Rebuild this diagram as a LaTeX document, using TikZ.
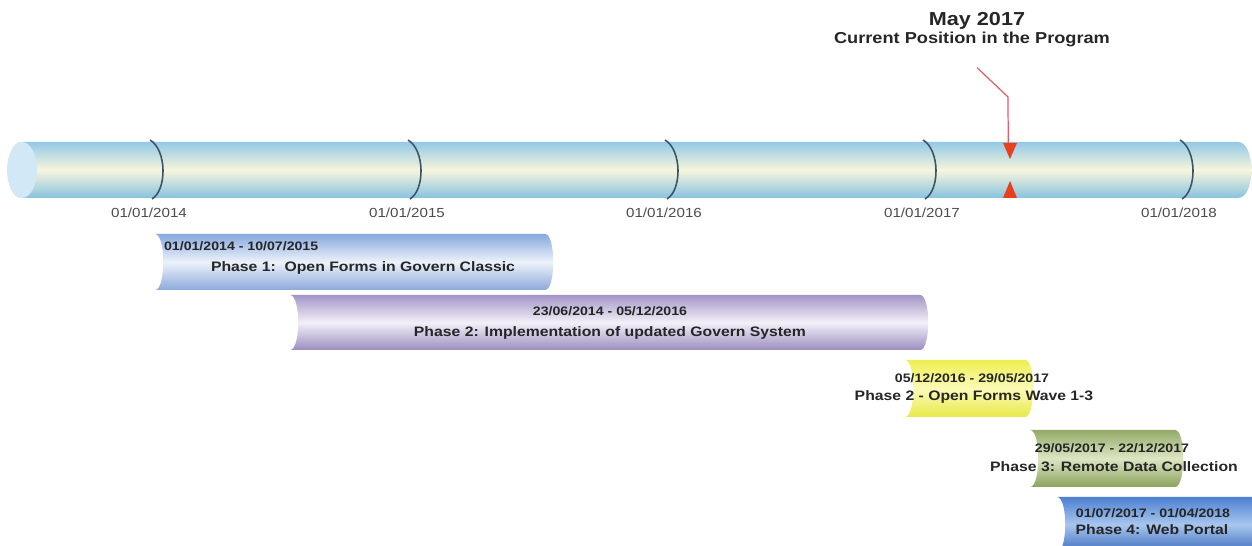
\documentclass[tikz,border=0pt]{standalone}
\usepackage{fontspec}
\setmainfont{Liberation Sans}[FakeStretch=1.15]
\usepackage{xcolor}
\usetikzlibrary{positioning, calc}

\definecolor{tubeTop}{HTML}{93C9E7}
\definecolor{tubeMid}{HTML}{F8F5DC}
\definecolor{tubeBot}{HTML}{88C2E0}
\definecolor{capFill}{HTML}{D3E8F6}
\definecolor{tickLine}{HTML}{3C5566}
\definecolor{markRed}{HTML}{E8401C}
\definecolor{pointerRed}{HTML}{D8606A}

\begin{document}
\begin{tikzpicture}[
    x=0.02cm, y=-0.02cm,
    tube/.style={top color=tubeTop, bottom color=tubeBot, middle color=tubeMid},
    ph1/.style={top color={rgb,255:red,134;green,169;blue,222}, bottom color={rgb,255:red,140;green,170;blue,218}, middle color={rgb,255:red,237;green,242;blue,250}},
    ph2/.style={top color={rgb,255:red,163;green,149;blue,198}, bottom color={rgb,255:red,156;green,140;blue,191}, middle color={rgb,255:red,243;green,240;blue,248}},
    ph3/.style={top color={rgb,255:red,238;green,238;blue,80}, bottom color={rgb,255:red,232;green,232;blue,72}, middle color={rgb,255:red,251;green,251;blue,184}},
    ph4/.style={top color={rgb,255:red,147;green,170;blue,103}, bottom color={rgb,255:red,139;green,162;blue,92}, middle color={rgb,255:red,220;green,230;blue,196}},
    ph5/.style={top color={rgb,255:red,76;green,128;blue,210}, bottom color={rgb,255:red,63;green,111;blue,191}, middle color={rgb,255:red,168;green,198;blue,238}},
    tickmark/.style={draw=tickLine, line width=0.9pt},
    ticklabel/.style={font=\fontsize{7.5}{9}\selectfont, text=black!70},
    datetext/.style={font=\fontsize{7}{8}\selectfont\bfseries, text=black!85, inner sep=1pt},
    phasetext/.style={font=\fontsize{7.8}{9}\selectfont\bfseries, text=black!85, inner sep=1pt},
    pointer/.style={draw=pointerRed, line width=0.7pt},
]
\clip (0,0) rectangle (1252,546);
\useasboundingbox (0,0) rectangle (1252,546);

% main time axis
\path[tube] (22,142) -- (1238,142) .. controls (1256,142) and (1256,198) .. (1238,198)
    -- (22,198) .. controls (3,198) and (3,142) .. (22,142) -- cycle;
\fill[capFill] (22,170) ellipse [x radius=15, y radius=28];

\foreach \x/\yr in {155/2014, 413/2015, 670/2016, 928/2017, 1185/2018} {
    \draw[tickmark] (\x-5,140) .. controls (\x+12,150) and (\x+12,190) .. (\x-3,199);
    \node[ticklabel] (d\yr) at (\x-6,213) {01/01/\yr};
}

% phase bars
\foreach \xa/\xb/\ya/\yb/\sty in {155/553/234/290/ph1, 290/928/295/350/ph2, 905/1033/360/417/ph3, 1030/1183/430/487/ph4, 1057/1265/497/552/ph5}
    \path[\sty] (\xa,\ya) -- (\xb-8,\ya) .. controls (\xb+3,\ya) and (\xb+3,\yb) .. (\xb-8,\yb)
        -- (\xa,\yb) .. controls (\xa+11,\yb) and (\xa+11,\ya) .. (\xa,\ya) -- cycle;

\node[datetext, anchor=west] (p1date) at (162,246) {01/01/2014 - 10/07/2015};
\node[phasetext] (p1name) at (363,268) {Phase 1:\ \ Open Forms in Govern Classic};
\node[datetext] (p2date) at (610,311) {23/06/2014 - 05/12/2016};
\node[phasetext] (p2name) at (610,333) {Phase 2: Implementation of updated Govern System};
\node[datetext] (p3date) at (972,378) {05/12/2016 - 29/05/2017};
\node[phasetext] (p3name) at (974,397) {Phase 2 - Open Forms Wave 1-3};
\node[datetext] (p4date) at (1112,448) {29/05/2017 - 22/12/2017};
\node[phasetext] (p4name) at (1114,467) {Phase 3: Remote Data Collection};
\node[datetext] (p5date) at (1153,513) {01/07/2017 - 01/04/2018};
\node[phasetext] (p5name) at (1152,530) {Phase 4: Web Portal};

% current position marker
\node[font=\fontsize{10.7}{12}\selectfont\bfseries, text=black!85] (may) at (977,21) {May 2017};
\node[font=\fontsize{9}{11}\selectfont\bfseries, text=black!85] (cur) at (972,39) {Current Position in the Program};
\coordinate (now) at (1010,143);
\coordinate (bend) at (1008,97);
\fill[markRed] (now) -- ++(-7,0) -- ++(7,16) -- ++(7,-16) -- cycle;
\fill[markRed] (1010,181) -- ++(-7,17) -- ++(14,0) -- cycle;
\draw[pointer] ([shift={(5,15)}]cur.south) -- (bend) -- ([xshift=-1]now);
\end{tikzpicture}
\end{document}
